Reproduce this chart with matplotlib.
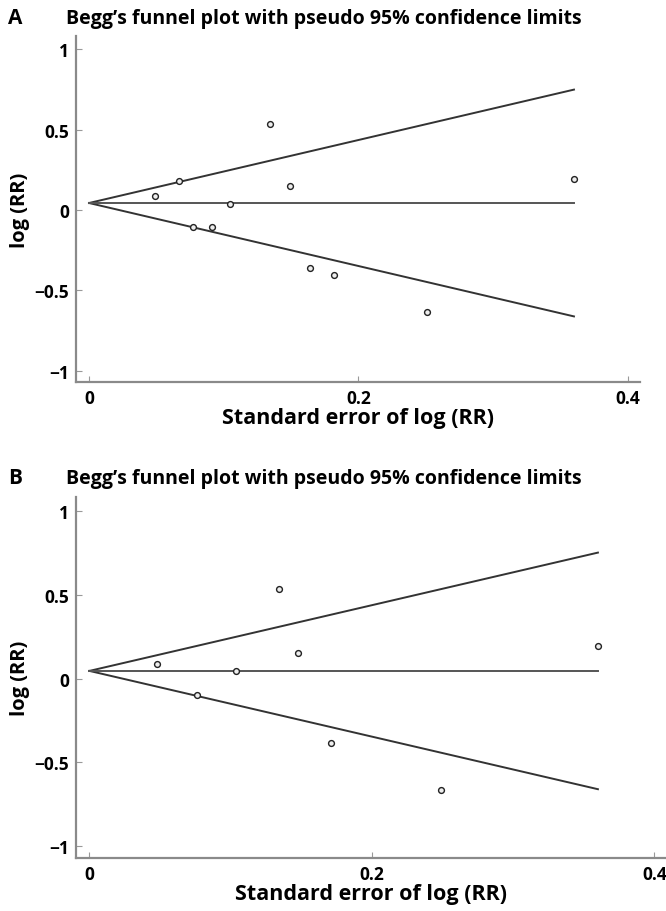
import matplotlib
matplotlib.use("Agg")
import matplotlib.pyplot as plt
import numpy as np

plt.rcParams['font.family'] = ['Open Sans', 'DejaVu Sans']
plt.rcParams['font.weight'] = 'bold'
plt.rcParams['axes.labelweight'] = 'bold'

# panel A: all studies
se_a = [0.049, 0.067, 0.077, 0.091, 0.105, 0.134, 0.149, 0.164, 0.182, 0.251, 0.360]
logrr_a = [0.087, 0.184, -0.104, -0.104, 0.039, 0.533, 0.151, -0.359, -0.403, -0.633, 0.195]
pooled_a = 0.044

# panel B: subset
se_b = [0.048, 0.076, 0.104, 0.134, 0.148, 0.171, 0.249, 0.360]
logrr_b = [0.087, -0.097, 0.046, 0.534, 0.153, -0.383, -0.667, 0.195]
pooled_b = 0.046

se_max = 0.36
title = "Begg\u2019s funnel plot with pseudo 95% confidence limits"
xticks = [0, 0.2, 0.4]
xticklabels = ["0", "0.2", "0.4"]
yticks = [-1, -0.5, 0, 0.5, 1]
yticklabels = ["\u22121", "\u22120.5", "0", "0.5", "1"]

fig = plt.figure(figsize=(6.66, 9.12), dpi=100)


def funnel(rect, se, logrr, pooled, letter, title_y):
    ax = fig.add_axes(rect)
    s = np.array([0, se_max])
    ax.plot(s, pooled + 1.96 * s, color="#333333", lw=1.4)
    ax.plot(s, pooled - 1.96 * s, color="#333333", lw=1.4)
    ax.plot(s, [pooled, pooled], color="#555555", lw=1.4)
    ax.plot(se, logrr, linestyle="none", marker="o", ms=4.2,
            mfc="#eeeeee", mec="#222222", mew=1.0)

    ax.set_xlim(-0.0097, 0.409)
    ax.set_ylim(-1.07, 1.083)
    ax.set_xticks(xticks)
    ax.set_xticklabels(xticklabels, fontweight="bold")
    ax.set_yticks(yticks)
    ax.set_yticklabels(yticklabels, fontweight="bold")
    ax.tick_params(direction="in", length=4, width=0.8, color="#999999",
                   labelsize=12.5, pad=5)
    for side in ["top", "right"]:
        ax.spines[side].set_visible(False)
    for side in ["left", "bottom"]:
        ax.spines[side].set_color("#8a8a8a")
        ax.spines[side].set_linewidth(1.6)
    ax.set_xlabel("Standard error of log (RR)", fontsize=15.5, labelpad=0)
    ax.set_ylabel("log (RR)", fontsize=14.5, labelpad=3)

    fig.text(8 / 666, title_y, letter, fontsize=15, fontweight="bold",
             va="center", ha="left")
    fig.text(66 / 666, title_y, title, fontsize=14, fontweight="bold",
             va="center", ha="left")
    return ax


funnel([0.1141, 0.5800, 0.8468, 0.3794], se_a, logrr_a, pooled_a, "A",
       1 - 19 / 912)
funnel([0.1137, 0.0581, 0.8880, 0.3958], se_b, logrr_b, pooled_b, "B",
       1 - 479 / 912)

fig.savefig("out.png", dpi=100)
